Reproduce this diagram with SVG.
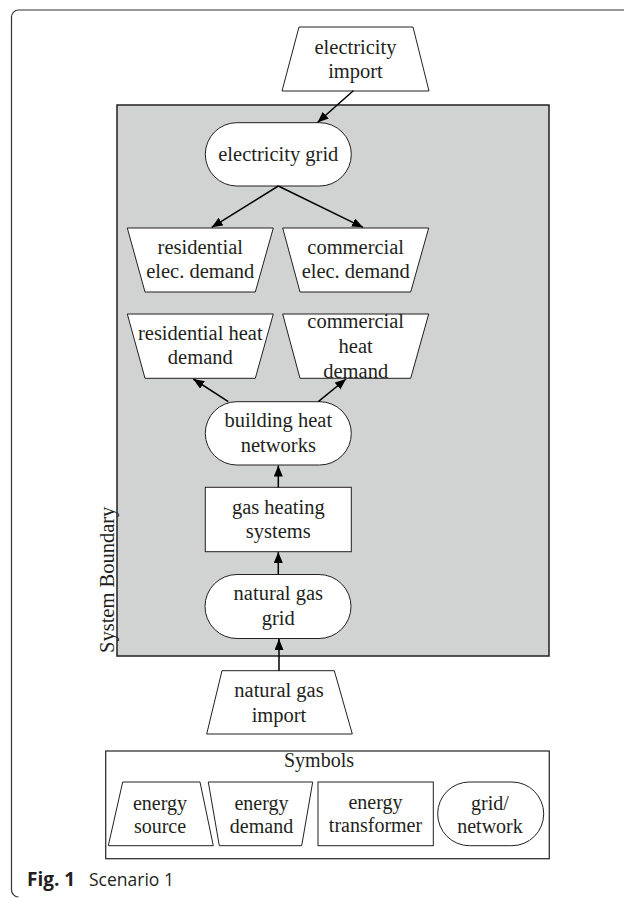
<svg xmlns="http://www.w3.org/2000/svg" width="624" height="898" viewBox="0 0 624 898">
<style>
.node{fill:#fff;stroke:#231f20;stroke-width:1}
.t{font-family:"Liberation Serif","Times New Roman",serif;font-size:20.5px;fill:#231f20;text-anchor:middle}
.ts{font-family:"Liberation Serif","Times New Roman",serif;font-size:20px;fill:#231f20;text-anchor:middle}
.edge{stroke:#000;stroke-width:1.5;fill:none;marker-end:url(#ah)}
</style>
<defs>
<marker id="ah" markerUnits="userSpaceOnUse" markerWidth="12" markerHeight="10" refX="11" refY="4.5" orient="auto">
<path d="M0,0 L11,4.5 L0,9 z" fill="#000"/>
</marker>
</defs>
<rect width="624" height="898" fill="#fff"/>
<path d="M624 10 H18.5 A7 7 0 0 0 11.5 17 V890 A7 7 0 0 0 18.5 897" fill="none" stroke="#333" stroke-width="1.2"/>
<g id="system-boundary">
<rect x="117" y="105" width="432" height="551" fill="#d1d3d2" stroke="#231f20" stroke-width="1.5"/>
<text class="t" transform="translate(114,653) rotate(-90)" style="text-anchor:start">System Boundary</text>
</g>
<g id="electricity-import">
<polygon class="node" points="299,27 413,27 429,91 282,91"/>
<text class="t" x="355.5" y="53.5">electricity</text>
<text class="t" x="355.5" y="77.5">import</text>
</g>
<g id="electricity-grid">
<rect class="node" x="205.3" y="122.7" width="146" height="63.3" rx="31.6"/>
<text class="t" x="278.3" y="161">electricity grid</text>
</g>
<g id="residential-elec-demand">
<polygon class="node" points="127.3,228 273.3,228 255.3,292 145,292"/>
<text class="t" x="200.3" y="253.5">residential</text>
<text class="t" x="200.3" y="277.5">elec. demand</text>
</g>
<g id="commercial-elec-demand">
<polygon class="node" points="282.7,228 428.7,228 410.7,292 300,292"/>
<text class="t" x="355.7" y="253.5">commercial</text>
<text class="t" x="355.7" y="277.5">elec. demand</text>
</g>
<g id="residential-heat-demand">
<polygon class="node" points="127.3,314 273.3,314 255.3,378.3 145,378.3"/>
<text class="t" x="200.3" y="339.5">residential heat</text>
<text class="t" x="200.3" y="364">demand</text>
</g>
<g id="commercial-heat-demand">
<polygon class="node" points="282.7,314 428.7,314 410.7,378.3 300,378.3"/>
<text class="t" x="355.7" y="327.5">commercial</text>
<text class="t" x="355.7" y="352.5">heat</text>
<text class="t" x="355.7" y="377.5">demand</text>
</g>
<g id="building-heat-networks">
<rect class="node" x="205.3" y="401.7" width="146" height="63.3" rx="31.6"/>
<text class="t" x="278.3" y="427">building heat</text>
<text class="t" x="278.3" y="452">networks</text>
</g>
<g id="gas-heating-systems">
<rect class="node" x="205.3" y="487.3" width="146" height="64.4"/>
<text class="t" x="278.3" y="514">gas heating</text>
<text class="t" x="278.3" y="538">systems</text>
</g>
<g id="natural-gas-grid">
<rect class="node" x="205" y="574.5" width="146" height="64" rx="32"/>
<text class="t" x="278.3" y="600">natural gas</text>
<text class="t" x="278.3" y="625">grid</text>
</g>
<g id="natural-gas-import">
<polygon class="node" points="222,670.7 334.3,670.7 352.3,734 206.7,734"/>
<text class="t" x="279" y="697">natural gas</text>
<text class="t" x="279" y="722">import</text>
</g>
<g id="connectors">
<line class="edge" x1="353.3" y1="90.7" x2="317.5" y2="122.5"/>
<line class="edge" x1="278.3" y1="186" x2="211.7" y2="227.3"/>
<line class="edge" x1="278.3" y1="186" x2="363" y2="227.3"/>
<line class="edge" x1="228.3" y1="401.7" x2="193.3" y2="379"/>
<line class="edge" x1="318.3" y1="401.7" x2="346" y2="379"/>
<line class="edge" x1="278.3" y1="487.3" x2="278.3" y2="465.5"/>
<line class="edge" x1="278.3" y1="574.5" x2="278.3" y2="552"/>
<line class="edge" x1="279" y1="670.7" x2="279" y2="639"/>
</g>
<g id="symbols">
<rect x="105.7" y="751" width="443.6" height="107.7" fill="#fff" stroke="#333" stroke-width="1.3"/>
<text class="ts" x="319" y="767">Symbols</text>
<g id="sym-energy-source">
<polygon class="node" points="122.7,782 200,782 213.3,845.7 108.3,845.7"/>
<text class="ts" x="160" y="810">energy</text>
<text class="ts" x="160" y="832.5">source</text>
</g>
<g id="sym-energy-demand">
<polygon class="node" points="208.3,782 312.7,782 301.7,845.7 219.3,845.7"/>
<text class="ts" x="261.5" y="810">energy</text>
<text class="ts" x="261.5" y="832.5">demand</text>
</g>
<g id="sym-energy-transformer">
<rect class="node" x="318" y="782" width="115.3" height="63.7"/>
<text class="ts" x="375.5" y="808.5">energy</text>
<text class="ts" x="375.5" y="832">transformer</text>
</g>
<g id="sym-grid-network">
<rect class="node" x="437.7" y="782" width="106" height="63.7" rx="31.8"/>
<text class="ts" x="490" y="810">grid/</text>
<text class="ts" x="490" y="832.5">network</text>
</g>
</g>
<g id="caption">
<text x="27" y="886" font-family="'Open Sans','Noto Sans',sans-serif" font-size="17.5" fill="#231f20"><tspan font-weight="bold" font-size="19">Fig. 1</tspan><tspan x="89">Scenario 1</tspan></text>
</g>
</svg>
